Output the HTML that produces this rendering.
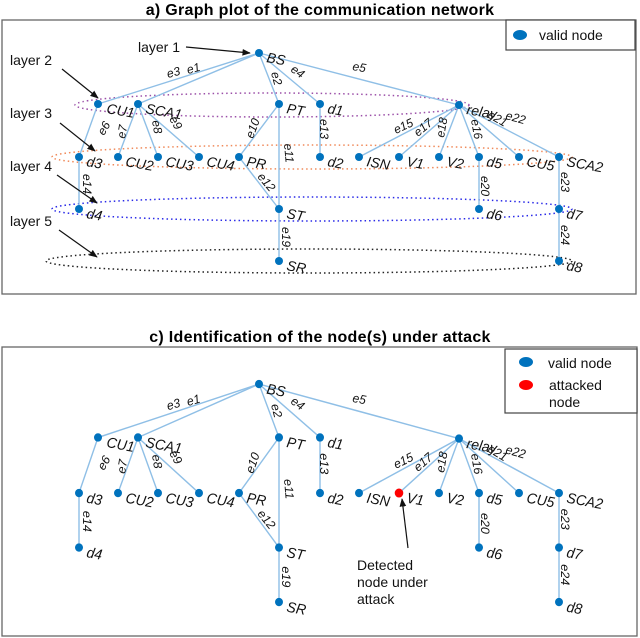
<!DOCTYPE html>
<html><head><meta charset="utf-8"><style>
body{margin:0;background:#fff}
svg{display:block;font-family:"Liberation Sans",sans-serif}
.n{fill:#0072bd}
.e{stroke:#8fbfe6;stroke-width:1.4;fill:none}
.l{font-size:14px;font-style:italic;fill:#111}
.el{font-size:12px;font-style:italic;fill:#111}
.t{font-size:14px;fill:#111}
.ti{font-size:16px;font-weight:bold;letter-spacing:0.3px}
</style></head><body>
<svg width="640" height="638" viewBox="0 0 640 638">
<defs>
<marker id="ar" viewBox="0 0 10 10" refX="9" refY="5" markerWidth="7" markerHeight="7" orient="auto"><path d="M0,1 L10,5 L0,9 z" fill="#111"/></marker>
<g id="tree">
<g class="e">
<line x1="259" y1="53" x2="98" y2="104"/><line x1="259" y1="53" x2="138" y2="104"/>
<line x1="259" y1="53" x2="279" y2="104"/><line x1="259" y1="53" x2="320" y2="104"/>
<line x1="259" y1="53" x2="459" y2="105"/>
<line x1="98" y1="104" x2="79" y2="157"/><line x1="138" y1="104" x2="118" y2="157"/>
<line x1="138" y1="104" x2="158" y2="157"/><line x1="138" y1="104" x2="199" y2="157"/>
<line x1="279" y1="104" x2="239" y2="157"/><line x1="279" y1="104" x2="279" y2="209"/>
<line x1="239" y1="157" x2="279" y2="209"/><line x1="320" y1="104" x2="320" y2="157"/>
<line x1="79" y1="157" x2="79" y2="209"/><line x1="279" y1="209" x2="279" y2="261"/>
<line x1="459" y1="105" x2="359" y2="157"/><line x1="459" y1="105" x2="399" y2="157"/>
<line x1="459" y1="105" x2="439" y2="157"/><line x1="459" y1="105" x2="479" y2="157"/>
<line x1="459" y1="105" x2="519" y2="157"/><line x1="459" y1="105" x2="559" y2="157"/>
<line x1="479" y1="157" x2="479" y2="209"/><line x1="559" y1="157" x2="559" y2="261"/>
</g>
<g class="el">
<text transform="translate(168,78) rotate(-15)">e3</text><text transform="translate(188,74) rotate(-15)">e1</text>
<text transform="translate(271,73) rotate(75)">e2</text><text transform="translate(290,71) rotate(35)">e4</text>
<text transform="translate(352,70) rotate(10)">e5</text>
<text transform="translate(104,136) rotate(-60)">e6</text><text transform="translate(125,139) rotate(-80)">e7</text>
<text transform="translate(152,121) rotate(80)">e8</text><text transform="translate(169,119) rotate(60)">e9</text>
<text transform="translate(253,139) rotate(-70)">e10</text><text transform="translate(284,144) rotate(85)">e11</text>
<text transform="translate(257,177) rotate(50)">e12</text><text transform="translate(320,119) rotate(90)">e13</text>
<text transform="translate(83,174) rotate(90)">e14</text><text transform="translate(282,227) rotate(90)">e19</text>
<text transform="translate(396,134) rotate(-25)">e15</text><text transform="translate(418,137) rotate(-40)">e17</text>
<text transform="translate(444,138) rotate(-80)">e18</text><text transform="translate(471,120) rotate(80)">e16</text>
<text transform="translate(487,117) rotate(30)">e21</text><text transform="translate(505,119) rotate(15)">e22</text>
<text transform="translate(481,176) rotate(90)">e20</text><text transform="translate(561,172) rotate(90)">e23</text>
<text transform="translate(561,225) rotate(90)">e24</text>
</g>
<g class="n">
<circle cx="259" cy="53" r="4"/><circle cx="98" cy="104" r="4"/><circle cx="138" cy="104" r="4"/>
<circle cx="279" cy="104" r="4"/><circle cx="320" cy="104" r="4"/><circle cx="459" cy="105" r="4"/>
<circle cx="79" cy="157" r="4"/><circle cx="118" cy="157" r="4"/><circle cx="158" cy="157" r="4"/>
<circle cx="199" cy="157" r="4"/><circle cx="239" cy="157" r="4"/><circle cx="320" cy="157" r="4"/>
<circle cx="359" cy="157" r="4"/><circle cx="399" cy="157" r="4"/><circle cx="439" cy="157" r="4"/>
<circle cx="479" cy="157" r="4"/><circle cx="519" cy="157" r="4"/><circle cx="559" cy="157" r="4"/>
<circle cx="79" cy="209" r="4"/><circle cx="279" cy="209" r="4"/><circle cx="479" cy="209" r="4"/>
<circle cx="559" cy="209" r="4"/><circle cx="279" cy="261" r="4"/><circle cx="559" cy="261" r="4"/>
</g>
<g class="l">
<text transform="translate(266,62) rotate(10)">BS</text>
<text transform="translate(106,113) rotate(10)">CU1</text><text transform="translate(145,113) rotate(10)">SCA1</text>
<text transform="translate(286,113) rotate(10)">PT</text><text transform="translate(327,113) rotate(10)">d1</text>
<text transform="translate(466,114) rotate(10)">relay</text>
<text transform="translate(86,166) rotate(10)">d3</text><text transform="translate(125,166) rotate(10)">CU2</text>
<text transform="translate(165,166) rotate(10)">CU3</text><text transform="translate(206,166) rotate(10)">CU4</text>
<text transform="translate(246,166) rotate(10)">PR</text><text transform="translate(327,166) rotate(10)">d2</text>
<text transform="translate(366,166) rotate(10)">ISN</text><text transform="translate(406,166) rotate(10)">V1</text>
<text transform="translate(446,166) rotate(10)">V2</text><text transform="translate(486,166) rotate(10)">d5</text>
<text transform="translate(526,166) rotate(10)">CU5</text><text transform="translate(566,166) rotate(10)">SCA2</text>
<text transform="translate(86,218) rotate(10)">d4</text><text transform="translate(286,218) rotate(10)">ST</text>
<text transform="translate(486,218) rotate(10)">d6</text><text transform="translate(566,218) rotate(10)">d7</text>
<text transform="translate(286,270) rotate(10)">SR</text><text transform="translate(566,270) rotate(10)">d8</text>
</g>
</g>
</defs>

<text x="320" y="15" text-anchor="middle" class="ti">a) Graph plot of the communication network</text>
<rect x="2" y="20" width="634" height="274" fill="none" stroke="#666" stroke-width="1.3"/>
<g fill="none" stroke-width="1.5" stroke-dasharray="1.5,3">
<ellipse cx="272" cy="105" rx="197" ry="12" stroke="#9b4fa8"/>
<ellipse cx="312" cy="157" rx="260" ry="12" stroke="#f08a5a"/>
<ellipse cx="312" cy="209" rx="260" ry="12" stroke="#2a2ae8"/>
<ellipse cx="309" cy="261" rx="263" ry="12" stroke="#222"/>
</g>
<use href="#tree"/>
<g class="t" stroke="#111" stroke-width="1.2">
<text x="138" y="52" stroke="none">layer 1</text><line x1="186" y1="47" x2="250" y2="53" marker-end="url(#ar)"/>
<text x="10" y="65" stroke="none">layer 2</text><line x1="62" y1="69" x2="98" y2="98" marker-end="url(#ar)"/>
<text x="10" y="118" stroke="none">layer 3</text><line x1="60" y1="123" x2="95" y2="151" marker-end="url(#ar)"/>
<text x="10" y="171" stroke="none">layer 4</text><line x1="57" y1="175" x2="97" y2="203" marker-end="url(#ar)"/>
<text x="10" y="226" stroke="none">layer 5</text><line x1="59" y1="230" x2="97" y2="257" marker-end="url(#ar)"/>
</g>
<rect x="506" y="20" width="129" height="30" fill="#fff" stroke="#444" stroke-width="1.2"/>
<ellipse cx="520" cy="35" rx="7" ry="5" class="n"/>
<text x="539" y="40" class="t" font-size="15">valid node</text>

<text x="320" y="342" text-anchor="middle" class="ti">c) Identification of  the node(s) under attack</text>
<rect x="2" y="347" width="635" height="289" fill="none" stroke="#666" stroke-width="1.3"/>
<g transform="matrix(1,0,0,1.048,0,328.5)"><use href="#tree"/>
<circle cx="399" cy="157" r="4.3" fill="#ff0000"/></g>
<line x1="408" y1="548" x2="402" y2="499" stroke="#111" stroke-width="1.2" marker-end="url(#ar)"/>
<text class="t" x="357" y="570">Detected</text>
<text class="t" x="357" y="587">node under</text>
<text class="t" x="357" y="604">attack</text>
<rect x="505" y="349" width="132" height="64" fill="#fff" stroke="#444" stroke-width="1.2"/>
<ellipse cx="526" cy="362" rx="7" ry="5" class="n"/>
<text x="548" y="368" class="t" font-size="15">valid node</text>
<ellipse cx="526" cy="385" rx="7" ry="5" fill="#ff0000"/>
<text x="549" y="390" class="t" font-size="15">attacked</text>
<text x="549" y="407" class="t" font-size="15">node</text>
</svg>
</body></html>
